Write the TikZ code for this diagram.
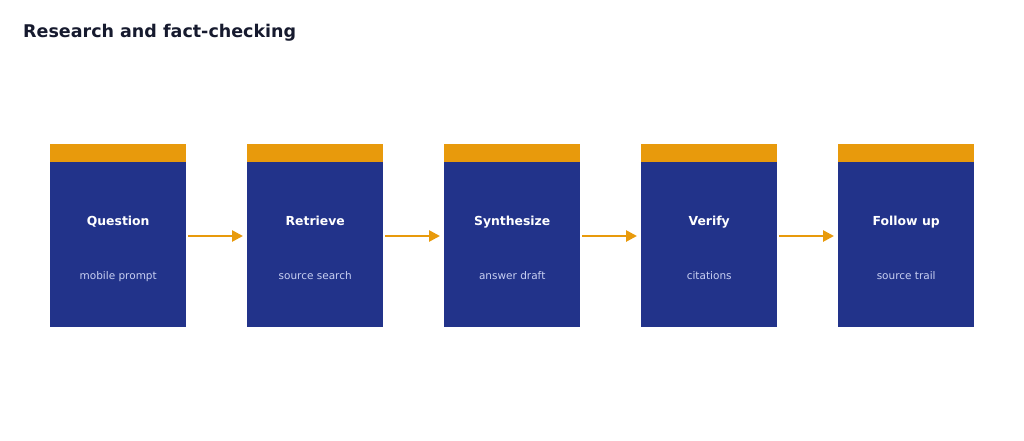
\documentclass[tikz,border=0pt]{standalone}
\usepackage{fontspec}
\setmainfont{DejaVu Sans}
\usetikzlibrary{positioning,arrows.meta}
\definecolor{navy}{HTML}{22338A}
\definecolor{amber}{HTML}{E89A0C}
\definecolor{pale}{HTML}{C9D0F2}
\definecolor{ink}{HTML}{161A2E}

\begin{document}
\begin{tikzpicture}[x=1pt, y=-1pt,
    stage/.style={rectangle, fill=navy, minimum width=136pt, minimum height=165pt, inner sep=0pt, anchor=north west},
    topbar/.style={rectangle, fill=amber, minimum width=136pt, minimum height=18pt, inner sep=0pt, anchor=south},
    head/.style={font=\bfseries\fontsize{12.4}{15}\selectfont, text=white, text height=9.5pt, text depth=3pt},
    sub/.style={font=\fontsize{10.5}{12}\selectfont, text=pale, text height=8pt, text depth=2.5pt},
    flow/.style={-{Triangle[length=11pt,width=11pt]}, draw=amber, line width=2.6pt, shorten <=2pt, shorten >=4pt}]

\useasboundingbox (0,0) rectangle (1024,441);
\node[anchor=west, inner sep=0pt, font=\bfseries\fontsize{17.5}{20}\selectfont, text=ink] (title) at (23,32.5) {Research and fact-checking};

% Stages
\foreach \name/\x/\hd/\sb in {question/50/Question/mobile prompt, retrieve/247/Retrieve/source search, synth/444/Synthesize/answer draft, verify/641/Verify/citations, follow/838/Follow up/source trail} {
  \node[stage] (\name) at (\x,162) {};
  \node[topbar] (\name-bar) at (\name.north) {};
  \node[head] (\name-hd) at ([yshift=-60pt]\name.north) {\hd};
  \node[sub] (\name-sb) at ([yshift=-115pt]\name.north) {\sb};
}

% Arrows
\draw[flow] ([yshift=-74pt]question.north east) -- ([yshift=-74pt]retrieve.north west);
\draw[flow] ([yshift=-74pt]retrieve.north east) -- ([yshift=-74pt]synth.north west);
\draw[flow] ([yshift=-74pt]synth.north east) -- ([yshift=-74pt]verify.north west);
\draw[flow] ([yshift=-74pt]verify.north east) -- ([yshift=-74pt]follow.north west);

\end{tikzpicture}
\end{document}
